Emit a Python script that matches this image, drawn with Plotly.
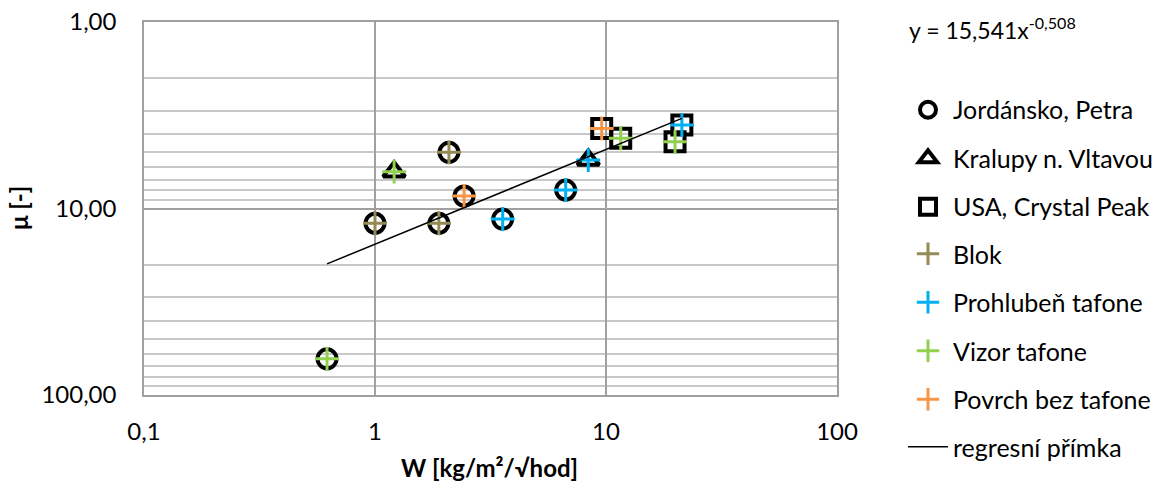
import plotly.graph_objects as go

# ---- data ----
W = [0.62, 1.00, 1.89, 2.09, 2.43, 3.57, 6.69, 1.21, 8.38, 9.58, 11.58, 21.3, 19.9]
MU = [64.0, 12.0, 12.0, 5.0, 8.57, 11.4, 7.96, 6.35, 5.5, 3.72, 4.20, 3.57, 4.38]
SITE = ["J", "J", "J", "J", "J", "J", "J", "K", "K", "U", "U", "U", "U"]
TYPE = ["Vizor", "Blok", "Blok", "Blok", "Povrch", "Prohl", "Prohl",
        "Vizor", "Prohl", "Povrch", "Vizor", "Prohl", "Vizor"]

SITES = ["J", "K", "U"]
SITE_NAMES = ["Jordánsko, Petra", "Kralupy n. Vltavou", "USA, Crystal Peak"]
SITE_SYMBOLS = ["circle-open", "triangle-up-open", "square-open"]

TYPES = ["Blok", "Prohl", "Vizor", "Povrch"]
TYPE_NAMES = ["Blok", "Prohlubeň tafone", "Vizor tafone", "Povrch bez tafone"]
TYPE_COLORS = ["#948A54", "#00B0F0", "#92D050", "#F79646"]

# regression (trendline label from chart)
A_COEF = 15.541
B_EXP = -0.508

X_TICKS = [0.1, 1, 10, 100]
X_TICKTEXT = ["0,1", "1", "10", "100"]
Y_TICKS = [1, 10, 100]
Y_TICKTEXT = ["1,00", "10,00", "100,00"]
Y_MINOR = [2, 3, 4, 5, 6, 7, 8, 9, 20, 30, 40, 50, 60, 70, 80, 90]

FONT = "Lato"
FS_TICK = 24
FS_LEG = 25
FS_EQ = 23
FS_TITLE = 24

W_PX, H_PX = 1159, 485
ML, MR, MT, MB = 144, 322, 22, 90
PW, PH = W_PX - ML - MR, H_PX - MT - MB


def px_x(p):
    return (p - ML) / PW


def px_y(p):
    return 1 - (p - MT) / PH


fig = go.Figure()

for i, s in enumerate(SITES):
    xs = [w for w, ss in zip(W, SITE) if ss == s]
    ys = [m for m, ss in zip(MU, SITE) if ss == s]
    fig.add_trace(go.Scatter(
        x=xs, y=ys, mode="markers", name=SITE_NAMES[i], legendgroup=s,
        legend="legend",
        marker=dict(symbol=SITE_SYMBOLS[i], size=19, color="black",
                    line=dict(width=4, color="black")),
    ))

for i, t in enumerate(TYPES):
    xs = [w for w, tt in zip(W, TYPE) if tt == t]
    ys = [m for m, tt in zip(MU, TYPE) if tt == t]
    fig.add_trace(go.Scatter(
        x=xs, y=ys, mode="markers", name=TYPE_NAMES[i], legendgroup=t,
        legend="legend2",
        marker=dict(symbol="cross-thin", size=17, color=TYPE_COLORS[i],
                    line=dict(width=3, color=TYPE_COLORS[i])),
    ))

x_reg = [min(W), max(W)]
y_reg = [A_COEF * x ** B_EXP for x in x_reg]
fig.add_trace(go.Scatter(
    x=x_reg, y=y_reg, mode="lines", name="regresní přímka", legendgroup="reg",
    legend="legend3",
    line=dict(color="black", width=1.5),
))

leg_common = dict(
    xref="container", yref="container", x=(902 + 1) / W_PX,
    xanchor="left", yanchor="top",
    font=dict(family=FONT, size=FS_LEG, color="black"),
    traceorder="grouped", tracegroupgap=13, itemwidth=40,
    bgcolor="rgba(0,0,0,0)",
)

fig.update_layout(
    width=W_PX, height=H_PX,
    margin=dict(l=ML, r=MR, t=MT, b=MB, autoexpand=False),
    paper_bgcolor="white", plot_bgcolor="white",
    font=dict(family=FONT, size=FS_TICK, color="black"),
    showlegend=True,
    legend=dict(leg_common, y=0.833 - 6 / H_PX),
    legend2=dict(leg_common, y=0.534 - 5 / H_PX),
    legend3=dict(leg_common, y=0.136 - 5 / H_PX),
    annotations=[
        dict(text="y = 15,541x<sup>-0,508</sup>", xref="paper", yref="paper",
             x=px_x(907), y=px_y(28), xanchor="left", yanchor="middle",
             showarrow=False, font=dict(family=FONT, size=FS_EQ, color="black")),
        dict(text="<b>W [kg/m²/√hod]</b>", xref="paper", yref="paper",
             x=px_x(489), y=px_y(468), xanchor="center", yanchor="middle",
             showarrow=False, font=dict(family=FONT, size=FS_TITLE, color="black")),
        dict(text="<b>μ [-]</b>", xref="paper", yref="paper", textangle=-90,
             x=px_x(18), y=px_y(208), xanchor="center", yanchor="middle",
             showarrow=False, font=dict(family=FONT, size=FS_TITLE, color="black")),
    ],
)

fig.update_xaxes(
    type="log", range=[-1, 2], automargin=False,
    tickmode="array", tickvals=X_TICKS, ticktext=X_TICKTEXT,
    showgrid=True, gridcolor="#A0A0A0", gridwidth=1.5,
    showline=True, linecolor="#A0A0A0", linewidth=1.5, mirror=True,
    ticks="", ticklabelstandoff=14, zeroline=False,
    tickfont=dict(family=FONT, size=FS_TICK),
)
fig.update_yaxes(
    type="log", range=[2, 0], automargin=False,
    tickmode="array", tickvals=Y_TICKS, ticktext=Y_TICKTEXT,
    showgrid=True, gridcolor="#A0A0A0", gridwidth=1.5,
    minor=dict(tickmode="array", tickvals=Y_MINOR, showgrid=True,
               gridcolor="#C8C8C8", gridwidth=1.5, ticks=""),
    showline=True, linecolor="#A0A0A0", linewidth=1.5, mirror=True,
    ticks="", ticklabelstandoff=21, zeroline=False,
    tickfont=dict(family=FONT, size=FS_TICK),
)

fig.write_html(
    "out.html",
    config={"displayModeBar": False},
    post_script="document.body.style.margin='0';document.body.style.overflow='hidden';",
)
